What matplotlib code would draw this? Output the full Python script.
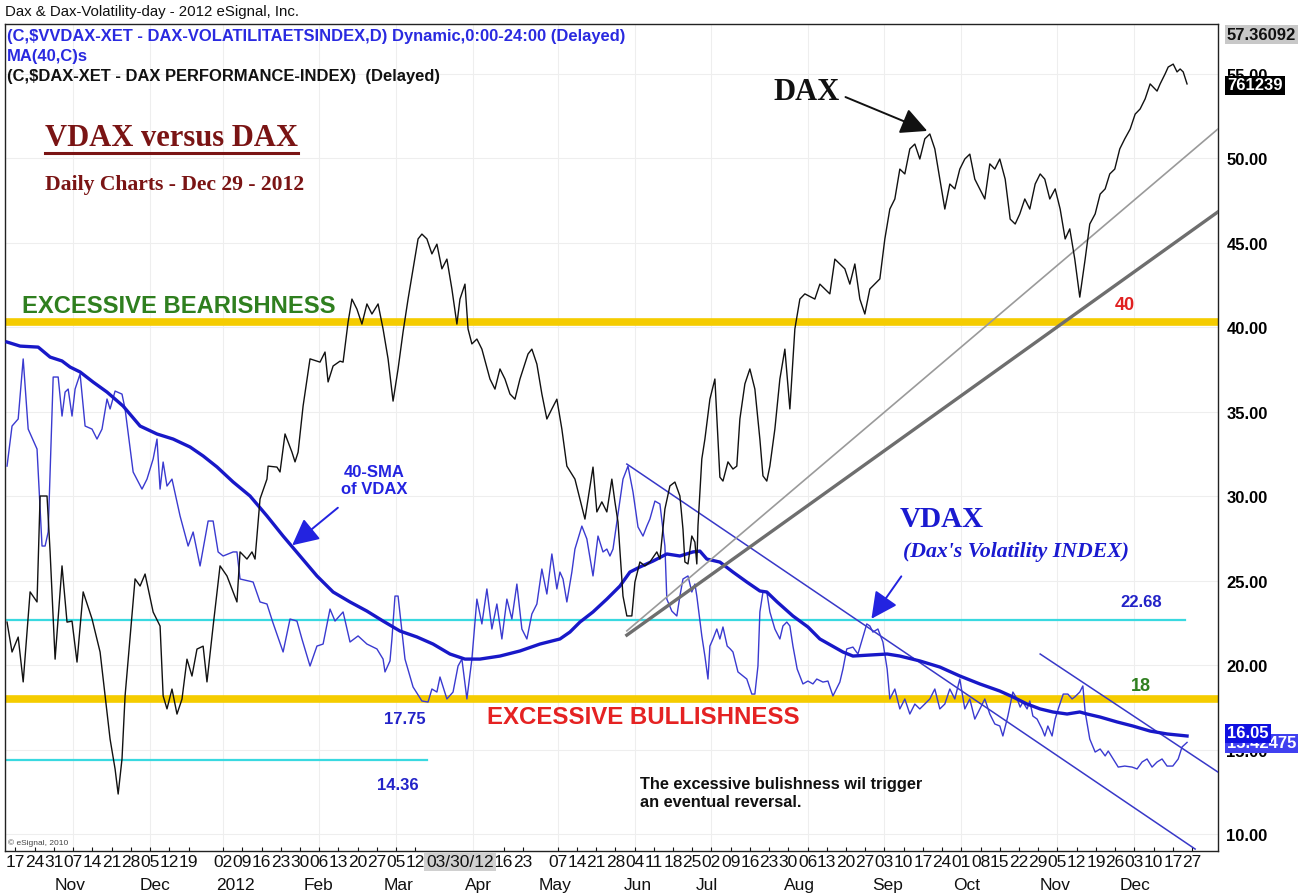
import matplotlib
matplotlib.use('Agg')
import matplotlib.pyplot as plt
import matplotlib.transforms as mtransforms

plt.rcParams['font.family'] = ['Liberation Sans', 'DejaVu Sans']

# ---------------- data (x = trading-day index, 0 = 17 Oct 2011) ----------------
dax_day = [-2.2, -0.9, 0.7, 2.0, 3.8, 5.6, 6.4, 8.2, 9.0, 10.3,
           12.1, 13.4, 14.7, 16.0, 17.6, 19.9, 22.0, 23.3, 24.6, 25.9,
           26.7, 27.7, 28.5, 31.1, 32.4, 33.7, 35.8, 37.6, 38.4, 39.4,
           40.7, 42.0, 43.3, 44.6, 45.9, 47.2, 48.8, 49.8, 51.4, 53.2,
           55.0, 57.6, 58.4, 60.2, 61.5, 62.3, 63.6, 65.4, 65.7, 68.0,
           68.8, 70.1, 71.9, 72.7, 73.5, 74.8, 76.6, 79.2, 80.5, 81.3,
           82.6, 84.4, 85.2, 86.5, 87.5, 88.8, 90.1, 91.4, 92.7, 94.3,
           95.6, 96.9, 98.2, 99.5, 100.8, 102.1, 103.4, 104.7, 105.7, 107.0,
           108.3, 109.6, 110.9, 112.2, 113.5, 114.8, 115.6, 116.9, 117.7, 118.7,
           120.0, 121.3, 123.4, 124.7, 126.0, 127.3, 128.6, 129.9, 131.2, 133.3,
           134.3, 135.6, 136.9, 138.2, 139.5, 140.8, 142.1, 143.4, 145.5, 146.8,
           148.1, 150.2, 151.2, 152.5, 153.8, 155.1, 155.9, 156.7, 158.0, 159.0,
           160.3, 161.1, 162.4, 163.7, 165.0, 166.8, 167.6, 168.9, 170.2, 171.5,
           172.8, 173.6, 174.1, 174.9, 175.9, 176.7, 177.2, 177.5, 178.5, 179.3,
           180.6, 181.9, 183.2, 184.0, 185.3, 186.6, 187.6, 188.4, 189.7, 191.0,
           192.3, 193.6, 194.4, 195.4, 196.2, 197.5, 198.8, 200.1, 201.4, 202.7,
           204.0, 205.3, 207.9, 209.2, 211.8, 213.1, 215.7, 217.0, 218.3, 219.6,
           220.9, 222.2, 224.8, 226.1, 227.4, 228.7, 230.0, 231.3, 232.6, 233.9,
           235.2, 236.5, 237.8, 239.1, 240.4, 241.7, 243.0, 244.3, 245.6, 246.9,
           248.2, 249.5, 252.1, 253.4, 254.7, 256.0, 257.4, 258.7, 260.0, 261.2,
           262.5, 263.8, 265.2, 266.5, 267.7, 269.0, 270.4, 271.7, 273.0, 274.2,
           275.5, 276.8, 278.2, 279.4, 280.8, 282.1, 283.4, 284.6, 285.9, 287.2,
           288.5, 289.9, 291.2, 292.5, 293.8, 295.1, 296.9, 297.7, 299.0, 299.8,
           301.1, 302.1, 302.9, 303.7, 304.7]
dax_val = [5955, 5863, 5909, 5771, 6048, 6017, 6343, 6343, 6171, 5841,
           6128, 5955, 5958, 5832, 6048, 5965, 5863, 5728, 5595, 5503,
           5426, 5534, 5728, 6088, 6066, 6103, 5986, 5943, 5728, 5688,
           5749, 5672, 5718, 5841, 5789, 5872, 5881, 5771, 5943, 6128,
           6097, 6017, 6171, 6149, 6171, 6149, 6334, 6395, 6435, 6432,
           6417, 6534, 6478, 6448, 6478, 6620, 6765, 6755, 6786, 6694,
           6743, 6758, 6755, 6878, 6949, 6918, 6872, 6934, 6903, 6934,
           6857, 6765, 6635, 6734, 6848, 6949, 7042, 7134, 7149, 7134,
           7088, 7118, 7042, 7072, 6980, 6872, 6949, 6995, 6857, 6811,
           6826, 6795, 6703, 6672, 6734, 6703, 6657, 6641, 6703, 6780,
           6795, 6749, 6657, 6580, 6611, 6641, 6549, 6435, 6395, 6334,
           6272, 6432, 6294, 6325, 6294, 6395, 6325, 6263, 6035, 5974,
           5974, 6078, 6140, 6128, 6140, 6171, 6149, 6303, 6374, 6386,
           6343, 6241, 6140, 6134, 6220, 6201, 6134, 6251, 6457, 6518,
           6641, 6703, 6401, 6389, 6448, 6426, 6435, 6580, 6688, 6734,
           6672, 6518, 6405, 6389, 6435, 6549, 6703, 6795, 6611, 6857,
           6949, 6965, 6949, 6995, 6965, 7072, 7042, 6995, 7057, 6949,
           6903, 6980, 7011, 7134, 7226, 7257, 7349, 7334, 7411, 7426,
           7380, 7442, 7457, 7411, 7318, 7226, 7303, 7288, 7349, 7380,
           7395, 7318, 7257, 7365, 7349, 7380, 7318, 7195, 7180, 7211,
           7257, 7226, 7303, 7334, 7318, 7257, 7288, 7226, 7134, 7165,
           7072, 6955, 7072, 7180, 7211, 7272, 7288, 7334, 7349, 7411,
           7442, 7472, 7518, 7534, 7565, 7611, 7589, 7611, 7642, 7663,
           7672, 7648, 7657, 7648, 7611]

vdax_day = [-2.2, -0.9, 0.7, 2.0, 3.3, 5.6, 6.9, 7.7, 8.5, 9.8,
            11.1, 12.1, 12.9, 13.7, 14.7, 15.5, 16.8, 18.1, 19.9, 21.2,
            22.5, 23.8, 24.6, 25.9, 27.7, 28.5, 30.6, 32.9, 34.2, 35.8,
            36.8, 37.6, 38.4, 39.4, 40.7, 42.8, 44.9, 46.2, 48.0, 50.1,
            51.4, 52.7, 54.0, 56.6, 57.6, 58.4, 61.8, 63.6, 65.4, 66.9,
            69.6, 71.4, 73.2, 74.5, 76.6, 78.4, 80.0, 81.8, 83.1, 85.2,
            87.0, 89.1, 91.4, 94.0, 95.6, 96.1, 97.4, 97.9, 98.7, 99.5,
            101.3, 103.4, 105.7, 107.3, 108.3, 109.6, 110.4, 112.2, 113.8, 115.1,
            116.1, 117.4, 118.7, 120.0, 121.3, 122.6, 123.9, 125.2, 126.5, 127.8,
            129.1, 130.4, 131.7, 133.0, 134.3, 135.6, 136.9, 138.2, 139.5, 140.8,
            141.6, 142.4, 143.4, 144.7, 145.5, 147.3, 148.6, 150.2, 151.5, 152.8,
            153.8, 154.6, 155.4, 156.4, 158.0, 159.3, 160.6, 161.9, 163.2, 164.2,
            165.0, 166.3, 167.6, 168.9, 169.4, 170.7, 172.0, 172.8, 173.6, 174.9,
            175.9, 176.7, 177.2, 178.5, 179.3, 180.1, 180.6, 181.4, 182.4, 183.2,
            184.0, 185.1, 185.9, 186.6, 187.9, 190.2, 191.5, 192.3, 193.1, 193.6,
            194.4, 195.4, 196.2, 197.5, 198.8, 199.6, 200.6, 201.4, 202.2, 203.3,
            204.8, 206.1, 207.4, 208.4, 210.0, 211.3, 212.6, 214.4, 215.2, 216.2,
            217.8, 219.1, 221.4, 222.2, 223.0, 224.3, 225.6, 226.7, 227.4, 228.7,
            230.0, 231.3, 232.6, 233.9, 235.2, 237.8, 239.1, 240.4, 241.7, 243.0,
            244.3, 245.6, 246.9, 248.2, 249.5, 250.8, 252.1, 253.4, 254.7, 256.0,
            256.8, 258.1, 259.4, 260.5, 261.3, 262.0, 263.1, 263.8, 264.6, 265.7,
            267.0, 267.7, 268.5, 269.6, 270.4, 271.2, 272.5, 273.7, 274.8, 275.5,
            276.8, 277.6, 278.2, 279.4, 280.8, 282.1, 283.4, 284.2, 285.5, 286.8,
            288.5, 290.4, 291.7, 293.0, 294.3, 295.6, 296.9, 298.2, 299.5, 301.0,
            302.4, 303.4, 304.7]
vdax_val = [31.77, 34.14, 34.56, 38.11, 33.96, 32.78, 27.04, 27.04, 27.87, 37.04,
            37.04, 34.73, 36.15, 36.33, 34.73, 36.33, 37.22, 34.14, 33.96, 33.37,
            33.96, 35.74, 35.15, 36.21, 36.03, 35.15, 31.42, 30.41, 31.0, 32.19,
            33.37, 30.41, 32.01, 30.59, 31.0, 28.82, 27.04, 27.87, 25.86, 28.52,
            28.52, 26.69, 26.45, 26.69, 26.69, 25.09, 24.91, 23.73, 23.61, 22.54,
            20.77, 22.72, 22.6, 21.54, 19.94, 21.12, 21.24, 23.31, 22.6, 23.14,
            21.36, 21.72, 21.24, 20.95, 20.35, 19.59, 20.24, 21.54, 24.08, 24.08,
            20.35, 18.70, 17.87, 17.81, 18.58, 18.40, 19.29, 17.99, 18.40, 19.94,
            20.35, 17.99, 20.35, 23.9, 22.43, 24.5, 22.13, 23.61, 21.54, 23.9,
            22.72, 24.79, 22.13, 21.54, 23.02, 23.61, 25.68, 24.2, 26.57, 24.5,
            25.5, 25.09, 23.73, 25.5, 26.86, 28.22, 27.46, 25.27, 27.63, 26.69,
            26.86, 26.45, 26.86, 28.46, 31.0, 31.77, 30.24, 28.17, 27.63, 28.22,
            28.64, 29.7, 29.53, 27.04, 23.9, 23.19, 22.9, 24.08, 25.09, 25.27,
            24.32, 24.79, 24.08, 21.72, 20.53, 19.17, 21.12, 21.54, 22.13, 21.54,
            22.25, 21.12, 20.95, 20.77, 19.59, 19.17, 18.28, 18.28, 19.94, 23.14,
            24.32, 24.32, 23.14, 22.13, 21.54, 22.31, 22.54, 22.31, 21.12, 19.76,
            18.88, 19.05, 18.88, 19.17, 18.99, 19.05, 18.17, 18.99, 19.76, 20.95,
            21.06, 20.65, 22.43, 22.31, 21.95, 22.13, 21.36, 19.76, 17.99, 18.58,
            17.40, 17.99, 17.10, 17.69, 17.40, 17.99, 18.58, 17.40, 17.69, 18.58,
            17.99, 19.17, 17.40, 17.99, 16.80, 17.40, 17.99, 17.10, 16.51, 16.39,
            15.80, 16.98, 18.40, 17.99, 17.51, 17.81, 17.40, 17.87, 16.98, 16.80,
            16.21, 15.80, 16.39, 15.80, 16.80, 17.40, 18.28, 18.28, 17.99, 18.11,
            18.40, 18.76, 17.22, 15.62, 14.85, 15.03, 14.62, 14.91, 14.44, 13.96,
            14.02, 13.96, 13.85, 14.26, 14.44, 13.96, 14.26, 14.44, 14.02, 14.02,
            14.44, 15.15, 15.42]

ma_day = [-2.2, 1.2, 5.9, 9.0, 12.1, 14.2, 16.8, 20.2, 23.8, 28.0,
          32.4, 36.8, 41.0, 45.4, 48.8, 52.4, 56.6, 61.0, 65.4, 69.6,
          74.0, 78.4, 82.6, 87.0, 91.4, 95.6, 100.0, 104.4, 108.6, 113.0,
          116.9, 120.8, 126.0, 131.2, 136.4, 141.6, 144.2, 146.8, 150.2, 153.8,
          157.2, 159.8, 162.4, 165.8, 169.4, 172.8, 176.2, 178.0, 179.8, 183.2,
          186.6, 190.2, 193.6, 195.4, 198.1, 202.2, 206.1, 209.2, 215.2, 217.8,
          222.2, 226.7, 230.0, 235.2, 240.4, 245.6, 250.8, 256.0, 259.4, 263.1,
          266.5, 269.8, 273.5, 276.8, 278.7, 282.1, 286.5, 290.6, 295.1, 299.5,
          304.7]
ma_val = [39.11, 38.87, 38.81, 38.22, 37.99, 37.63, 37.34, 36.74, 36.15, 35.32,
          34.14, 33.67, 33.37, 32.9, 32.37, 31.72, 30.83, 30.0, 28.82, 27.63,
          26.45, 25.27, 24.32, 23.73, 23.19, 22.6, 22.01, 21.66, 21.24, 20.65,
          20.35, 20.35, 20.53, 20.83, 21.24, 21.54, 21.95, 22.54, 23.14, 23.9,
          24.67, 25.5, 25.8, 26.15, 26.57, 26.45, 26.69, 26.74, 26.27, 26.09,
          25.5, 24.91, 24.38, 24.32, 23.73, 22.9, 22.25, 21.54, 20.77, 20.53,
          20.59, 20.65, 20.53, 20.24, 19.88, 19.35, 18.88, 18.46, 18.11, 17.69,
          17.40, 17.22, 17.10, 17.22, 17.10, 16.92, 16.63, 16.39, 16.09, 15.92,
          15.8]

# horizontal reference levels (VDAX units)
zone_levels = [40.3, 18.0]
cyan_level_long = 22.68
cyan_level_short = 14.36
cyan_long_end = 304.2
cyan_short_end = 107

# trend lines: (day0, value0, day1, value1)
vdax_channel_lines = [(159.0, 31.89, 306.8, 9.11), (266.5, 20.65, 312.7, 13.67)]
dax_trend_thin = (159.0, 5928, 312.7, 7472)
dax_trend_thick = (159.0, 5915, 312.7, 7217)

week_ticks = [0, 5, 10, 15, 20, 25, 30, 35, 40, 45,
              54, 59, 64, 69, 74, 79, 84, 89, 94, 99, 104,
              127, 132,
              141, 146, 151, 156, 161, 166, 171, 176, 181, 186, 191, 196, 201,
              206, 211, 216, 221, 226, 231, 236, 241, 246, 251, 256, 261, 266,
              271, 276, 281, 286, 291, 296, 301, 306]
week_labels = ['17', '24', '31', '07', '14', '21', '28', '05', '12', '19',
               '02', '09', '16', '23', '30', '06', '13', '20', '27', '05', '12',
               '16', '23',
               '07', '14', '21', '28', '04', '11', '18', '25', '02', '09', '16', '23', '30',
               '06', '13', '20', '27', '03', '10', '17', '24', '01', '08', '15', '22', '29',
               '05', '12', '19', '26', '03', '10', '17', '27']
month_pos = [14.2, 36.3, 57.1, 78.7, 99.5, 120.3, 140.3, 161.9, 179.8, 204.0, 226.9, 247.5, 270.4, 291.2]
month_labels = ['Nov', 'Dec', '2012', 'Feb', 'Mar', 'Apr', 'May', 'Jun', 'Jul',
                'Aug', 'Sep', 'Oct', 'Nov', 'Dec']
cursor_day = 115.6
cursor_label = '03/30/12'
grid_days = [15, 35, 54, 79, 99, 119, 141, 161, 181, 206, 226, 246, 271, 291]

y_ticks = [10, 15, 20, 25, 30, 35, 40, 45, 50, 55]

# ---------------- figure ----------------
W, H = 1312, 895
fig = plt.figure(figsize=(W / 100, H / 100), dpi=100)
fig.patch.set_facecolor('white')
ax = fig.add_axes([5 / W, 43 / H, 1213 / W, 827 / H])
ax.set_xlim(-2.73, 312.75)
ax.set_ylim(8.994, 57.93)

# faint grid
for t in grid_days:
    ax.axvline(t, color='#eeeeee', lw=0.8, zorder=0)
for v in y_ticks:
    ax.axhline(v, color='#eeeeee', lw=0.8, zorder=0)

# zone lines
for lv in zone_levels:
    ax.axhline(lv, color='#F5CC00', lw=5.5, zorder=2)
ax.plot([-2.73, cyan_long_end], [cyan_level_long, cyan_level_long], color='#39D9E0', lw=1.6, zorder=2)
ax.plot([-2.73, cyan_short_end], [cyan_level_short, cyan_level_short], color='#39D9E0', lw=1.6, zorder=2)

# VDAX channel lines
for (d0, v0, d1, v1) in vdax_channel_lines:
    ax.plot([d0, d1], [v0, v1], color='#3838c8', lw=1.1, zorder=3)

# VDAX and MA
ax.plot(vdax_day, vdax_val, color='#3a3ad0', lw=1.0, zorder=4)
ax.plot(ma_day, ma_val, color='#1818c8', lw=2.4, zorder=5)

# DAX on twin axis
ax2 = ax.twinx()
ax2.set_ylim(5250.7, 7795.4)
ax2.set_yticks([])
for s in ax2.spines.values():
    s.set_visible(False)
ax2.plot([dax_trend_thin[0], dax_trend_thin[2]], [dax_trend_thin[1], dax_trend_thin[3]],
         color='#9a9a9a', lw=1.2, zorder=3)
ax2.plot([dax_trend_thick[0], dax_trend_thick[2]], [dax_trend_thick[1], dax_trend_thick[3]],
         color='#6e6e6e', lw=2.4, zorder=3)
ax2.plot(dax_day, dax_val, color='#111111', lw=1.0, zorder=4)

# axes styling
for s in ax.spines.values():
    s.set_color('#222222')
    s.set_linewidth(1.0)
ax.yaxis.tick_right()
ax.set_yticks(y_ticks)
ax.set_yticklabels([f'{v:.2f}' for v in y_ticks])
ax.tick_params(axis='y', length=0, pad=6, labelsize=12)
for lab in ax.get_yticklabels():
    lab.set_fontweight('bold')
ax.set_xticks(week_ticks)
ax.set_xticklabels(week_labels)
ax.tick_params(axis='x', length=3, direction='in', pad=2, labelsize=12.5, colors='#111111')

trans_x = mtransforms.blended_transform_factory(ax.transData, ax.transAxes)
for t, lab in zip(month_pos, month_labels):
    ax.text(t, -0.040, lab, transform=trans_x, ha='center', va='center', fontsize=12.5, color='#111111')
ax.text(cursor_day, -0.0125, cursor_label, transform=trans_x, ha='center', va='center', fontsize=12.5,
        color='#111111', bbox=dict(boxstyle='square,pad=0.12', fc='#d0d0d0', ec='none'), zorder=10,
        clip_on=False)

# ---------------- texts ----------------
fig.text(5 / W, 1 - 12 / H, 'Dax & Dax-Volatility-day - 2012 eSignal, Inc.', fontsize=10.8,
         va='center', ha='left', color='#111111')
fig.text(7 / W, 1 - 36 / H, '(C,$VVDAX-XET - DAX-VOLATILITAETSINDEX,D) Dynamic,0:00-24:00 (Delayed)',
         fontsize=11.9, fontweight='bold', color='#2a2ae0', va='center', ha='left')
fig.text(7 / W, 1 - 56 / H, 'MA(40,C)s', fontsize=11.9, fontweight='bold', color='#2a2ae0', va='center', ha='left')
fig.text(7 / W, 1 - 77 / H, '(C,$DAX-XET - DAX PERFORMANCE-INDEX)  (Delayed)', fontsize=11.9,
         fontweight='bold', color='#111111', va='center', ha='left')
fig.text(8 / W, 1 - 843 / H, '© eSignal, 2010', fontsize=6, color='#444444', va='center', ha='left')

# title
serif = ['Liberation Serif', 'DejaVu Serif']
ax.text(0.033, 0.863, 'VDAX versus DAX', transform=ax.transAxes, fontsize=22, fontweight='bold',
        family=serif, color='#7a1414', va='center', ha='left')
ax.plot([0.033, 0.2415], [0.844, 0.844], transform=ax.transAxes, color='#7a1414', lw=2.2)
ax.text(0.033, 0.8065, 'Daily Charts - Dec 29 - 2012', transform=ax.transAxes, fontsize=15.6,
        fontweight='bold', family=serif, color='#7a1414', va='center', ha='left')

ax.text(1.7, 41.3, 'EXCESSIVE BEARISHNESS', fontsize=17.1, fontweight='bold', color='#2f7f1f', va='center', ha='left')
ax.text(288.6, 41.36, '40', fontsize=13, fontweight='bold', color='#e02020', va='center', ha='center')
ax.text(122.6, 16.98, 'EXCESSIVE BULLISHNESS', fontsize=17.3, fontweight='bold', color='#e52222', va='center', ha='left')
ax.text(292.7, 18.76, '18', fontsize=13, fontweight='bold', color='#2f7f1f', va='center', ha='center')
ax.text(101.3, 16.86, '17.75', fontsize=12, fontweight='bold', color='#2323c8', va='center', ha='center')
ax.text(99.5, 12.9, '14.36', fontsize=12, fontweight='bold', color='#2323c8', va='center', ha='center')
ax.text(292.7, 23.73, '22.68', fontsize=12, fontweight='bold', color='#2323c8', va='center', ha='center')
ax.text(93.2, 30.95, '40-SMA\nof VDAX', fontsize=12, fontweight='bold', color='#2323e0', va='center',
        ha='center', linespacing=1.2)
ax.text(230.0, 28.64, 'VDAX', fontsize=21, fontweight='bold', family=serif, color='#1a1ad0', va='center', ha='left')
ax.text(230.8, 26.75, "(Dax's Volatility INDEX)", fontsize=15.7, fontweight='bold', style='italic',
        family=serif, color='#1a1ad0', va='center', ha='left')
ax.text(197.0, 53.96, 'DAX', fontsize=22, fontweight='bold', family=serif, color='#111111', va='center', ha='left')
ax.text(162.4, 13.45, 'The excessive bulishness wil trigger\nan eventual reversal.', fontsize=11.8,
        fontweight='bold', color='#111111', va='top', ha='left', linespacing=1.3)

arrow_kw = dict(arrowstyle='-|>,head_length=0.9,head_width=0.45', mutation_scale=18, lw=1.4)
ax.annotate('', xy=(71.4, 26.98), xytext=(84.4, 29.41),
            arrowprops=dict(color='#2323e0', **arrow_kw), zorder=7)
ax.annotate('', xy=(222.2, 22.6), xytext=(230.8, 25.38),
            arrowprops=dict(color='#2323e0', **arrow_kw), zorder=7)
ax.annotate('', xy=(237.8, 51.54), xytext=(215.2, 53.67),
            arrowprops=dict(color='#111111', **arrow_kw), zorder=7)

# right-side value boxes
fig.text(1227 / W, 1 - 35 / H, '57.36092', fontsize=12, fontweight='bold', color='#111111', va='center',
         ha='left', bbox=dict(boxstyle='square,pad=0.12', fc='#c8c8c8', ec='none'))
fig.text(1227 / W, 1 - 86 / H, '761239', fontsize=12, fontweight='bold', color='white', va='center',
         ha='left', bbox=dict(boxstyle='square,pad=0.12', fc='#000000', ec='none'))
fig.text(1227 / W, 1 - 744 / H, '15.42475', fontsize=12, fontweight='bold', color='white', va='center',
         ha='left', bbox=dict(boxstyle='square,pad=0.12', fc='#4040f0', ec='none'))
fig.text(1227 / W, 1 - 734 / H, '16.05', fontsize=12, fontweight='bold', color='white', va='center',
         ha='left', bbox=dict(boxstyle='square,pad=0.12', fc='#1010e0', ec='none'))

fig.savefig('out.png', dpi=100, facecolor='white')
